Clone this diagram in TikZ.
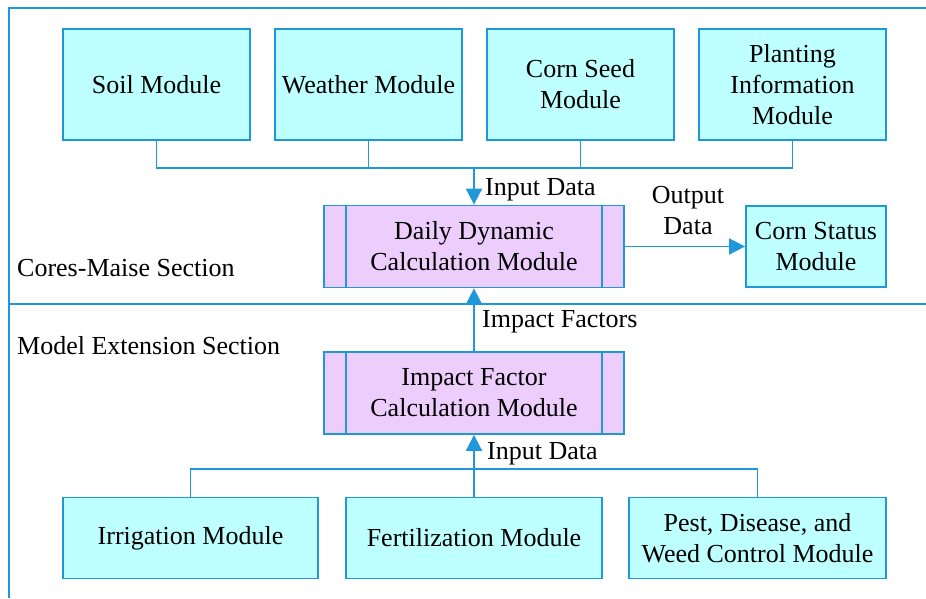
\documentclass[tikz,border=0pt]{standalone}
\usepackage{fontspec}
\setmainfont{Liberation Serif}
\usetikzlibrary{arrows.meta}
\definecolor{lineblue}{RGB}{30,152,215}
\definecolor{cyanfill}{RGB}{190,255,255}
\definecolor{purplefill}{RGB}{236,205,252}
\begin{document}
\begin{tikzpicture}[x=1pt,y=-1pt,
  font=\rmfamily\fontsize{26}{31}\selectfont,
  conn/.style={draw=lineblue,line width=1.8pt},
  arr/.style={conn,-{Triangle[length=16pt,width=16pt]}},
  modbox/.style={draw=lineblue,fill=cyanfill,line width=1.8pt,align=center,inner sep=0pt},
  procbox/.style={draw=lineblue,fill=purplefill,line width=1.8pt,align=center,inner sep=0pt,minimum width=300pt,minimum height=82pt},
  lbl/.style={inner sep=1pt,align=center}
]
\useasboundingbox (0,0) rectangle (926,598);
% frame
\coordinate (fbl) at (9,598);
\coordinate (ftl) at (9,8);
\coordinate (ftr) at (926,8);
\coordinate (ml) at (9,304);
\coordinate (mr) at (926,304);
\draw[conn] (fbl) -- (ftl) -- (ftr);
\draw[conn] (ml) -- (mr);

% top modules
\node[modbox,minimum width=187pt,minimum height=111pt] (soil) at (156.5,84.5) {Soil Module};
\node[modbox,minimum width=187pt,minimum height=111pt] (weather) at (368.5,84.5) {Weather Module};
\node[modbox,minimum width=187pt,minimum height=111pt] (seed) at (580.5,84.5) {Corn Seed\\Module};
\node[modbox,minimum width=187pt,minimum height=111pt] (plant) at (792.5,84.5) {Planting\\Information\\Module};

% daily
\node[procbox] (daily) at (474,246.5) {Daily Dynamic\\Calculation Module};
\draw[conn] ([xshift=23pt]daily.north west) -- ([xshift=23pt]daily.south west);
\draw[conn] ([xshift=-23pt]daily.north east) -- ([xshift=-23pt]daily.south east);

\node[modbox,minimum width=140pt,minimum height=81pt] (status) at (816,246.5) {Corn Status\\Module};

% bus top
\coordinate (bt) at (474,168);
\draw[conn] (soil.south) |- (bt);
\draw[conn] (plant.south) |- (bt);
\draw[conn] (weather.south) |- (bt);
\draw[conn] (seed.south) |- (bt);
\draw[arr] (bt) -- (daily.north);
\node[lbl,anchor=west] (in1) at (484,190) {Input Data};

\draw[arr] (daily.east) -- (status.west);
\node[lbl] (out) at (688,211) {Output\\Data};

% impact
\node[procbox] (impact) at (474,393) {Impact Factor\\Calculation Module};
\draw[conn] ([xshift=23pt]impact.north west) -- ([xshift=23pt]impact.south west);
\draw[conn] ([xshift=-23pt]impact.north east) -- ([xshift=-23pt]impact.south east);
\draw[arr] (impact.north) -- (daily.south);
\node[lbl,anchor=west] (if) at (481,322) {Impact Factors};

% bottom modules
\node[modbox,minimum width=255pt,minimum height=81pt] (irr) at (190.5,538) {\raisebox{-4pt}{Irrigation Module}};
\node[modbox,minimum width=256pt,minimum height=81pt] (fert) at (474,538) {\raisebox{-1pt}{Fertilization Module}};
\node[modbox,minimum width=257pt,minimum height=81pt] (pest) at (757.5,538) {Pest, Disease, and\\Weed Control Module};
\coordinate (bb) at (474,469);
\draw[conn] (irr.north) |- (bb);
\draw[conn] (pest.north) |- (bb);
\draw[arr] (fert.north) -- (impact.south);
\node[lbl,anchor=west] (in2) at (486,454) {Input Data};

% section labels
\node[lbl,anchor=west] (cores) at (16,268) {Cores-Maise Section};
\node[lbl,anchor=west] (ext) at (16,346) {Model Extension Section};
\end{tikzpicture}
\end{document}
